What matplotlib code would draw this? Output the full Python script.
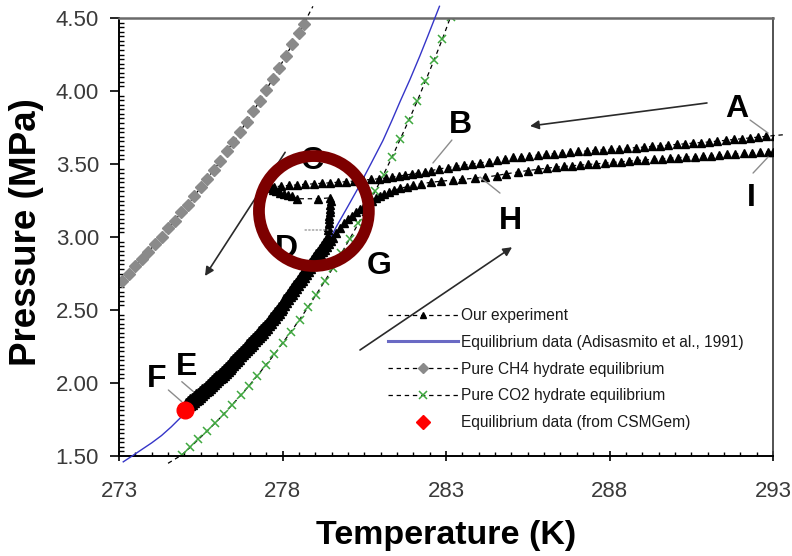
import matplotlib
matplotlib.use("Agg")
import matplotlib.pyplot as plt
from matplotlib.lines import Line2D
from matplotlib.patches import Ellipse
from matplotlib.ticker import MultipleLocator, FixedLocator, FixedFormatter

plt.rcParams['font.family'] = ['Liberation Sans', 'DejaVu Sans']

# ---------------- data ----------------
# Pure CH4 hydrate equilibrium (T in K, P in MPa)
ch4_T = [273.10, 273.30, 273.50, 273.70, 273.90, 274.10, 274.30, 274.50, 274.70,
         274.90, 275.10, 275.30, 275.50, 275.70, 275.90, 276.10, 276.30, 276.50,
         276.70, 276.90, 277.10, 277.30, 277.50, 277.70, 277.90, 278.10, 278.30,
         278.50, 278.65, 278.93]
ch4_P = [2.70, 2.75, 2.80, 2.85, 2.90, 2.95, 3.00, 3.06, 3.11, 3.17, 3.22, 3.28,
         3.34, 3.40, 3.46, 3.52, 3.59, 3.65, 3.72, 3.79, 3.86, 3.93, 4.01, 4.08,
         4.16, 4.24, 4.32, 4.40, 4.46, 4.58]

# Pure CO2 hydrate equilibrium
co2_T = [274.50, 274.92, 275.18, 275.43, 275.69, 275.95, 276.21, 276.46, 276.72,
         276.98, 277.23, 277.49, 277.75, 278.00, 278.26, 278.52, 278.78, 279.03,
         279.29, 279.55, 279.80, 280.06, 280.32, 280.57, 280.83, 281.09, 281.35,
         281.60, 281.86, 282.12, 282.37, 282.63, 282.89, 283.14]
co2_P = [1.45, 1.507, 1.560, 1.614, 1.670, 1.728, 1.788, 1.851, 1.915, 1.982,
         2.051, 2.122, 2.196, 2.273, 2.352, 2.434, 2.519, 2.606, 2.697, 2.791,
         2.888, 2.989, 3.093, 3.201, 3.312, 3.428, 3.547, 3.670, 3.798, 3.931,
         4.068, 4.209, 4.356, 4.508]

# Equilibrium data (Adisasmito et al., 1991)
adi_T = [273.13, 273.40, 273.70, 274.00, 274.30, 274.60, 274.87, 275.20, 275.50,
         275.78, 276.10, 276.39, 276.70, 277.00, 277.40, 277.80, 278.15, 278.50,
         278.80, 279.10, 279.40, 279.67, 280.00, 280.30, 280.70, 281.07, 281.35,
         281.60, 281.90, 282.20, 282.45, 282.66, 282.80]
adi_P = [1.46, 1.50, 1.545, 1.59, 1.64, 1.70, 1.76, 1.82, 1.87, 1.93, 2.00, 2.07,
         2.14, 2.21, 2.31, 2.43, 2.53, 2.64, 2.745, 2.85, 2.965, 3.08, 3.21, 3.33,
         3.50, 3.66, 3.80, 3.93, 4.08, 4.24, 4.38, 4.50, 4.58]

# Experimental run, logged in order
# cooling A -> C
run_cool_T = [
    293.30, 293.05, 292.80, 292.55, 292.30, 292.05, 291.80, 291.55, 291.30, 291.05,
    290.80, 290.55, 290.30, 290.05, 289.80, 289.55, 289.30, 289.05, 288.80, 288.55,
    288.30, 288.05, 287.80, 287.55, 287.30, 287.05, 286.80, 286.55, 286.30, 286.05,
    285.80, 285.55, 285.30, 285.05, 284.80, 284.55, 284.30, 284.05, 283.80, 283.55,
    283.30, 283.05, 282.80, 282.55, 282.35, 282.15, 281.95, 281.75, 281.55, 281.35,
    281.15, 280.95, 280.70, 280.45, 280.20, 279.95, 279.70, 279.45, 279.20, 278.95,
    278.70, 278.45, 278.20, 277.95, 277.75, 277.68]
run_cool_P = [
    3.700, 3.695, 3.690, 3.684, 3.679, 3.673, 3.668, 3.662, 3.657, 3.651,
    3.647, 3.643, 3.638, 3.634, 3.629, 3.625, 3.620, 3.616, 3.612, 3.608,
    3.604, 3.600, 3.597, 3.593, 3.589, 3.586, 3.581, 3.576, 3.571, 3.566,
    3.561, 3.556, 3.551, 3.546, 3.536, 3.524, 3.516, 3.508, 3.500, 3.492,
    3.484, 3.476, 3.466, 3.455, 3.445, 3.438, 3.431, 3.424, 3.417, 3.410,
    3.404, 3.399, 3.394, 3.389, 3.384, 3.379, 3.375, 3.371, 3.368, 3.364,
    3.361, 3.357, 3.353, 3.349, 3.343, 3.335]
# nucleation C -> D
run_nuc_T = [277.72, 277.80, 277.92, 278.05, 278.18, 278.30, 278.44, 279.09, 279.45,
             279.47, 279.46, 279.45, 279.44, 279.43, 279.42, 279.41, 279.40, 279.38]
run_nuc_P = [3.322, 3.312, 3.303, 3.295, 3.287, 3.279, 3.262, 3.262, 3.268,
             3.245, 3.220, 3.195, 3.170, 3.145, 3.120, 3.095, 3.070, 3.045]
# growth D -> E
run_grow_T = [
    279.38, 279.32, 279.26, 279.20, 279.14, 279.08, 279.02, 278.96, 278.90, 278.84,
    278.78, 278.72, 278.66, 278.60, 278.54, 278.48, 278.42, 278.36, 278.30, 278.24,
    278.18, 278.12, 278.06, 278.00, 277.94, 277.88, 277.82, 277.76, 277.70, 277.64,
    277.58, 277.52, 277.46, 277.40, 277.34, 277.28, 277.22, 277.16, 277.10, 277.04,
    276.98, 276.92, 276.86, 276.80, 276.74, 276.68, 276.62, 276.56, 276.50, 276.44,
    276.38, 276.32, 276.26, 276.20, 276.14, 276.08, 276.02, 275.96, 275.90, 275.84,
    275.78, 275.72, 275.66, 275.60, 275.54, 275.48, 275.42, 275.36, 275.30, 275.24,
    275.18, 275.12, 275.06]
run_grow_P = [
    3.004, 2.984, 2.965, 2.945, 2.926, 2.906, 2.887, 2.867, 2.848, 2.829,
    2.810, 2.790, 2.771, 2.752, 2.733, 2.714, 2.694, 2.675, 2.656, 2.637,
    2.618, 2.598, 2.579, 2.560, 2.543, 2.525, 2.508, 2.490, 2.473, 2.456,
    2.438, 2.421, 2.405, 2.390, 2.375, 2.360, 2.345, 2.330, 2.315, 2.300,
    2.285, 2.271, 2.256, 2.242, 2.228, 2.213, 2.199, 2.184, 2.170, 2.157,
    2.144, 2.130, 2.117, 2.104, 2.091, 2.078, 2.064, 2.052, 2.039, 2.026,
    2.014, 2.001, 1.989, 1.976, 1.963, 1.951, 1.940, 1.929, 1.917, 1.906,
    1.895, 1.883, 1.872]
# heating E -> G
run_heat_T = [
    275.09, 275.15, 275.21, 275.27, 275.33, 275.39, 275.45, 275.51, 275.57, 275.63,
    275.69, 275.75, 275.81, 275.87, 275.93, 275.99, 276.05, 276.11, 276.17, 276.23,
    276.29, 276.35, 276.41, 276.47, 276.53, 276.59, 276.65, 276.71, 276.77, 276.83,
    276.89, 276.95, 277.01, 277.07, 277.13, 277.19, 277.25, 277.31, 277.37, 277.43,
    277.49, 277.55, 277.61, 277.67, 277.73, 277.79, 277.85, 277.91, 277.97, 278.03,
    278.09, 278.15, 278.21, 278.27, 278.33, 278.39, 278.45, 278.51, 278.57, 278.63,
    278.69, 278.75, 278.81, 278.87, 278.93, 278.99, 279.05, 279.11, 279.17, 279.23,
    279.29, 279.35, 279.41, 279.47, 279.53]
run_heat_P = [
    1.818, 1.829, 1.840, 1.852, 1.863, 1.874, 1.886, 1.897, 1.910, 1.922,
    1.935, 1.948, 1.960, 1.973, 1.985, 1.998, 2.011, 2.024, 2.037, 2.051,
    2.064, 2.077, 2.090, 2.103, 2.117, 2.132, 2.146, 2.160, 2.175, 2.189,
    2.204, 2.218, 2.233, 2.248, 2.263, 2.278, 2.293, 2.308, 2.323, 2.338,
    2.353, 2.370, 2.387, 2.404, 2.422, 2.439, 2.457, 2.474, 2.491, 2.510,
    2.529, 2.548, 2.567, 2.586, 2.606, 2.625, 2.644, 2.663, 2.682, 2.702,
    2.721, 2.740, 2.759, 2.778, 2.798, 2.817, 2.836, 2.856, 2.875, 2.895,
    2.914, 2.934, 2.953, 2.973, 2.992]
# dissociation G -> H -> I
run_diss_T = [
    279.65, 279.77, 279.89, 280.01, 280.13, 280.25, 280.37, 280.49, 280.61, 280.73,
    280.85, 280.97, 281.10, 281.25, 281.42, 281.60, 281.80, 282.00, 282.25, 282.55,
    282.85, 283.20, 283.50, 283.90, 284.20, 284.55, 284.85, 285.20, 285.50, 285.80,
    286.10, 286.35, 286.60, 286.85, 287.10, 287.35, 287.60, 287.85, 288.10, 288.35,
    288.60, 288.85, 289.10, 289.35, 289.60, 289.85, 290.10, 290.35, 290.60, 290.85,
    291.10, 291.35, 291.60, 291.85, 292.10, 292.35, 292.60, 292.85, 293.00]
run_diss_P = [
    3.030, 3.062, 3.093, 3.120, 3.145, 3.168, 3.190, 3.210, 3.230, 3.250,
    3.268, 3.282, 3.296, 3.309, 3.321, 3.333, 3.344, 3.354, 3.365, 3.375,
    3.382, 3.390, 3.395, 3.403, 3.410, 3.421, 3.433, 3.445, 3.455, 3.463,
    3.472, 3.478, 3.483, 3.488, 3.492, 3.497, 3.501, 3.506, 3.511, 3.515,
    3.520, 3.524, 3.528, 3.532, 3.536, 3.540, 3.544, 3.547, 3.551, 3.555,
    3.558, 3.562, 3.566, 3.569, 3.573, 3.576, 3.580, 3.583, 3.585]

# Equilibrium point from CSMGem
csm_T = [275.02]
csm_P = [1.815]

x_ticks = [273, 278, 283, 288, 293]
y_ticks = [1.50, 2.00, 2.50, 3.00, 3.50, 4.00, 4.50]

legend_labels = ["Our experiment",
                 "Equilibrium data (Adisasmito et al., 1991)",
                 "Pure CH4 hydrate equilibrium",
                 "Pure CO2 hydrate equilibrium",
                 "Equilibrium data (from CSMGem)"]

exp_T = run_cool_T + run_nuc_T + run_grow_T + run_heat_T + run_diss_T
exp_P = run_cool_P + run_nuc_P + run_grow_P + run_heat_P + run_diss_P

# ---------------- figure ----------------
fig = plt.figure(figsize=(7.92, 5.56), dpi=100)
ax = fig.add_axes([119 / 792, 1 - 456 / 556, 654 / 792, 438 / 556])
ax.set_xlim(273, 293)
ax.set_ylim(1.5, 4.5)

dash = dict(ls=(0, (3.5, 3)), lw=0.9, color='black')


def series(T, P, marker_kw, line_kw, z):
    # the connecting line may run slightly past the frame, markers stay inside
    if line_kw is not None:
        ax.plot(T, P, marker='none', clip_on=False, zorder=z, **line_kw)
    if marker_kw is not None:
        ax.plot(T, P, ls='none', clip_on=True, zorder=z + 0.1, **marker_kw)


series(ch4_T, ch4_P, dict(marker='D', ms=6.0, mfc='#8a8a8a', mec='#8a8a8a'), dash, 2)
series(co2_T, co2_P, dict(marker='x', ms=6.0, mew=1.1, color='#3fa83f'), dash, 2)
series(adi_T, adi_P, None, dict(color='#3535c8', lw=1.0), 3)
series(exp_T, exp_P, dict(marker='^', ms=6.3, mfc='black', mec='black'), dash, 4)
ax.plot(csm_T, csm_P, ls='none', marker='o', ms=12, mfc='#ff0000', mec='#ff0000', zorder=6)

# ---------------- axes styling ----------------
for s in ('left', 'bottom'):
    ax.spines[s].set_color('black')
    ax.spines[s].set_linewidth(1.4)
ax.spines['top'].set_color('#6a6a6a')
ax.spines['top'].set_linewidth(1.8)
ax.spines['right'].set_color('#444444')
ax.spines['right'].set_linewidth(1.3)

ax.xaxis.set_major_locator(FixedLocator(x_ticks))
ax.xaxis.set_major_formatter(FixedFormatter([str(t) for t in x_ticks]))
ax.yaxis.set_major_locator(FixedLocator(y_ticks))
ax.yaxis.set_major_formatter(FixedFormatter([f"{v:.2f}" for v in y_ticks]))
ax.xaxis.set_minor_locator(MultipleLocator(0.5))
ax.yaxis.set_minor_locator(MultipleLocator(0.03125))

ax.tick_params(axis='x', which='major', direction='inout', length=7.5, width=1.2,
               pad=14, labelsize=16, labelcolor='#3a3a3a', color='black')
ax.tick_params(axis='x', which='minor', direction='in', length=3, width=1.0, color='black')
ax.tick_params(axis='y', which='major', direction='out', length=6.5, width=1.2,
               pad=8, labelsize=16, labelcolor='#3a3a3a', color='black')
ax.tick_params(axis='y', which='minor', direction='in', length=3.5, width=1.0, color='black')

ax.set_xlabel("Temperature (K)", fontsize=24.5, fontweight='bold')
ax.set_ylabel("Pressure (MPa)", fontsize=26.5, fontweight='bold')
ax.xaxis.set_label_coords(0.5, -0.145)
ax.yaxis.set_label_coords(-0.114, 0.512)

# ---------------- annotations ----------------
letters = {"A": (291.9, 3.88), "B": (283.43, 3.77), "C": (278.9, 3.52),
           "D": (278.13, 2.92), "E": (275.07, 2.11), "F": (274.15, 2.03),
           "G": (280.95, 2.80), "H": (284.96, 3.11), "I": (292.35, 3.27)}
for name, (tx, ty) in letters.items():
    ax.text(tx, ty, name, fontsize=23, fontweight='bold', ha='center', va='center', zorder=7)

leaders = [((292.30, 3.801), (292.85, 3.712)),
           ((283.18, 3.664), (282.60, 3.507)),
           ((274.92, 2.009), (275.28, 1.940)),
           ((274.51, 1.952), (274.92, 1.872)),
           ((284.65, 3.301), (284.04, 3.411)),
           ((292.39, 3.438), (292.85, 3.548))]
for p0, p1 in leaders:
    ax.annotate('', xy=p1, xytext=p0,
                arrowprops=dict(arrowstyle='-', color='#8c8c8c', lw=1.0,
                                shrinkA=0, shrinkB=0), zorder=5)
ax.annotate('', xy=(279.39, 3.048), xytext=(278.69, 3.048),
            arrowprops=dict(arrowstyle='-', color='#9a9a9a', lw=1.0, ls=':',
                            shrinkA=0, shrinkB=0), zorder=5)

arrows = [((290.98, 3.918), (285.57, 3.76)),
          ((278.08, 3.58), (275.63, 2.733)),
          ((280.37, 2.226), (285.02, 2.93))]
for p0, p1 in arrows:
    ax.annotate('', xy=p1, xytext=p0,
                arrowprops=dict(arrowstyle='-|>', color='#2a2a2a', lw=1.2,
                                mutation_scale=13, shrinkA=0, shrinkB=0), zorder=5)

ring = Ellipse((278.96, 3.178), width=3.36, height=0.753, fill=False,
               edgecolor='#7d0000', lw=8.5, zorder=8)
ax.add_patch(ring)

# ---------------- legend ----------------
handles = [
    Line2D([], [], ls=(0, (3.5, 3)), lw=0.9, color='black', marker='^', ms=4.5),
    Line2D([], [], ls='-', lw=2.2, color='#6a6ac4'),
    Line2D([], [], ls=(0, (3.5, 3)), lw=0.9, color='black', marker='D', ms=5,
           mfc='#8a8a8a', mec='#8a8a8a'),
    Line2D([], [], ls=(0, (3.5, 3)), lw=0.9, color='black', marker='x', ms=6,
           mew=1.1, mec='#3fa83f'),
    Line2D([], [], ls='none', marker='D', ms=7, mfc='#ff0000', mec='#ff0000'),
]
leg = ax.legend(handles, legend_labels, loc='upper left', bbox_to_anchor=(0.411, 0.338),
                frameon=False, fontsize=11.2, handlelength=4.5, handletextpad=0.22,
                labelspacing=0.76, borderpad=0, borderaxespad=0)
for t in leg.get_texts():
    t.set_color('#1a1a1a')

fig.savefig("out.png", dpi=100)
